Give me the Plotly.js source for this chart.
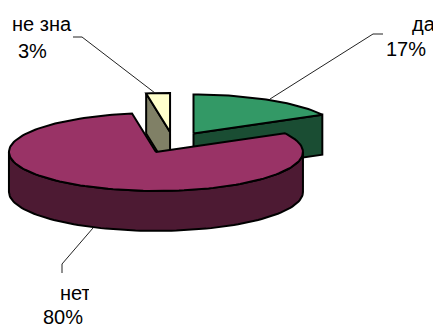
<!DOCTYPE html>
<html><head><meta charset="utf-8">
<script src="https://cdn.plot.ly/plotly-3.0.1.min.js"></script>
<style>html,body{margin:0;padding:0;background:#fff;overflow:hidden}#c{width:433px;height:327px}</style>
</head><body><div id="c"></div>
<script>
const categories = ['да', 'нет', 'не зна'];
const values = [17, 80.4, 2.6];
const topColors = ['#339966', '#993366', '#FFFFCC'];
const sideColors = ['#1A4D33', '#4D1A33', '#808066'];

// projection of the tilted pie onto the plot
const CX = 173.3, CY = 142.5, RX = 147, RY = 39, DEPTH = 40, EXPLODE = 0.27;
const total = values.reduce((a, b) => a + b, 0);
const toRad = d => d * Math.PI / 180;
const pt = (c, deg, dz) => [c[0] + RX * Math.sin(toRad(deg)), c[1] - RY * Math.cos(toRad(deg)) + (dz || 0)];

let start = 0;
const slices = values.map(v => {
  const a0 = start, a1 = start + v / total * 360; start = a1;
  const mid = (a0 + a1) / 2;
  const c = [CX + EXPLODE * RX * Math.sin(toRad(mid)), CY - EXPLODE * RY * Math.cos(toRad(mid))];
  return { a0, a1, c };
});
function arc(c, a0, a1, dz) {
  const n = Math.max(2, Math.ceil((a1 - a0) / 2)), out = [];
  for (let i = 0; i <= n; i++) out.push(pt(c, a0 + (a1 - a0) * i / n, dz));
  return out;
}
function poly(points, fill) {
  return { type: 'scatter', mode: 'lines', x: points.map(p => p[0]), y: points.map(p => p[1]),
    fill: 'toself', fillcolor: fill, line: { color: '#000', width: 2 }, hoverinfo: 'skip', showlegend: false };
}
function sector(s, fill) { return poly([s.c, ...arc(s.c, s.a0, s.a1), s.c], fill); }
function cutFace(s, deg, fill) {
  const p = pt(s.c, deg);
  return poly([s.c, p, [p[0], p[1] + DEPTH], [s.c[0], s.c[1] + DEPTH], s.c], fill);
}
function rim(s, a0, a1, fill) {
  return poly([...arc(s.c, a0, a1), ...arc(s.c, a0, a1, DEPTH).reverse(), pt(s.c, a0)], fill);
}
const [da, net, ne] = slices;
const traces = [
  cutFace(ne, ne.a0, sideColors[2]), sector(ne, topColors[2]),
  cutFace(da, da.a1, sideColors[0]), sector(da, topColors[0]),
  rim(net, 90, 270, sideColors[1]), sector(net, topColors[1])
];

// leader lines
const leaderX = [[155, 82, 73], [270, 373, 383], [93, 62, 62]];
const leaderY = [[93, 37, 37], [99, 34, 34], [228, 264, 273]];
leaderX.forEach((x, i) => traces.push({ type: 'scatter', mode: 'lines', x, y: leaderY[i],
  line: { color: '#222', width: 1 }, hoverinfo: 'skip', showlegend: false }));

const F = { family: 'Liberation Sans, Arial, sans-serif', size: 20, color: '#000' };
const note = (text, x, y, w) => {
  const o = { text, x, y, xref: 'x', yref: 'y', xanchor: 'left', yanchor: 'middle', showarrow: false, font: F, borderpad: 0, borderwidth: 0, align: 'left' };
  if (w) o.width = w;
  return o;
};
const pct = values.map(v => Math.round(v) + '%');
const annotations = [
  note(categories[2], 12, 24), note(pct[2], 18, 51),
  note(categories[0], 412, 24), note(pct[0], 386, 49),
  note(categories[1], 60, 293, 29), note(pct[1], 43, 317)
];
Plotly.newPlot('c', traces, {
  width: 433, height: 327, margin: { l: 0, r: 0, t: 0, b: 0 },
  paper_bgcolor: '#fff', plot_bgcolor: '#fff', showlegend: false,
  xaxis: { range: [0, 433], visible: false, fixedrange: true },
  yaxis: { range: [327, 0], visible: false, fixedrange: true },
  annotations
}, { displayModeBar: false, staticPlot: true });
</script></body></html>
